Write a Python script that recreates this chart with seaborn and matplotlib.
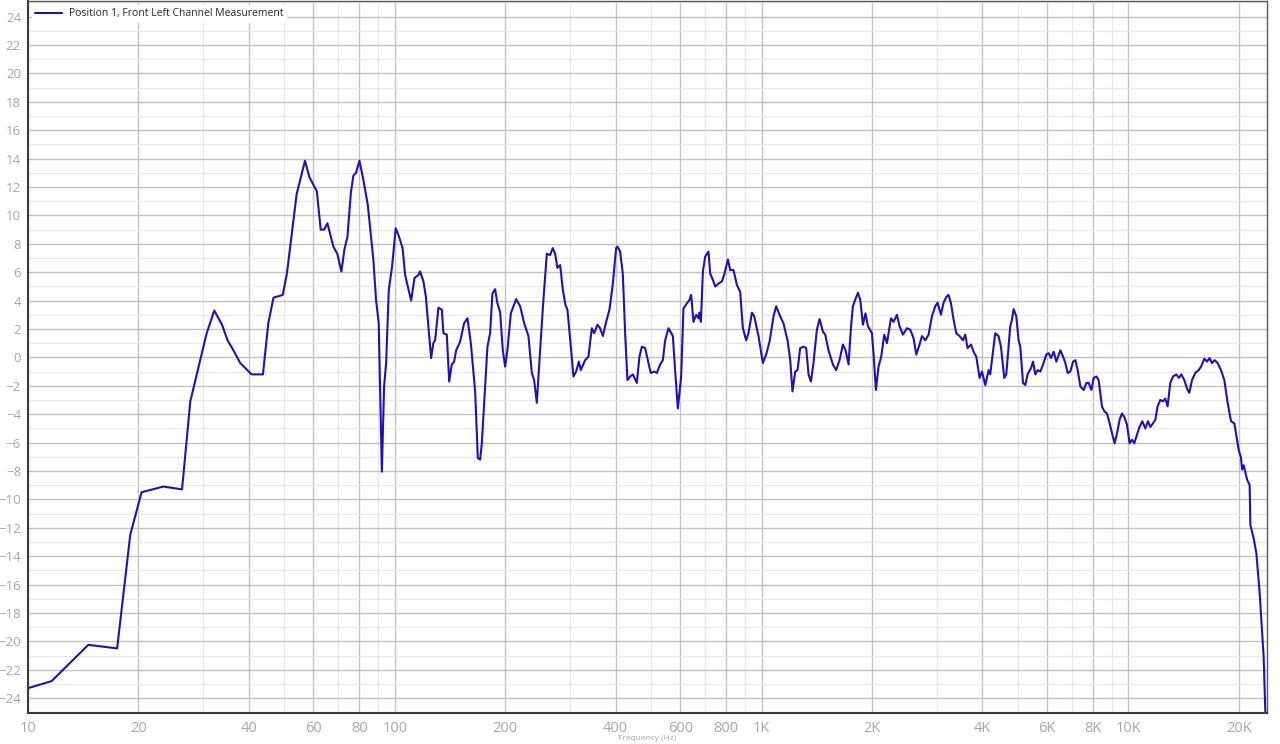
import pandas as pd
import matplotlib
matplotlib.use('Agg')
import matplotlib.pyplot as plt
import seaborn as sns
from matplotlib.ticker import FixedLocator, NullFormatter

# Position 1, front left channel - frequency response
freq_hz = [
    10, 11.6, 14.6, 17.5, 19.0, 20.4, 23.4, 26.3, 27.7, 30.7,
    32.2, 33.8, 35.0, 36.3, 37.9, 40.7, 43.7, 45.2, 46.7, 49.5,
    50.8, 54.0, 56.9, 58.5, 61.3, 62.8, 64.2, 65.5, 68.0, 69.7,
    71.5, 72.9, 74.3, 75.9, 77.1, 78.4, 80.1, 82.1, 84.4, 87.4,
    88.9, 90.4, 92.2, 93.5, 94.7, 96.3, 98.3, 100.6, 102.7, 105.0,
    106.7, 110.8, 113.2, 116.0, 117.2, 119.7, 121.5, 123.5, 125.6, 127.4,
    128.8, 131.5, 134.4, 135.7, 138.6, 140.7, 143.0, 145.1, 147.0, 150.7,
    154.5, 157.8, 161.2, 165.6, 168.4, 170.9, 172.7, 176.3, 178.9, 181.9,
    184.6, 187.7, 190.5, 193.7, 197.0, 199.9, 202.8, 207.2, 214.2, 219.7,
    225.3, 231.4, 236.4, 239.8, 243.9, 249.0, 254.2, 259.7, 265.1, 269.6,
    273.6, 277.6, 282.4, 287.2, 291.9, 295.6, 302.0, 306.9, 312.2, 317.5,
    321.5, 330.3, 337.2, 344.5, 349.5, 356.9, 362.9, 369.2, 376.9, 384.8,
    393.1, 401.3, 404.6, 411.5, 418.5, 424.6, 430.8, 438.2, 445.7, 457.0,
    464.5, 471.6, 481.5, 491.6, 499.0, 509.4, 518.1, 529.0, 538.0, 545.9,
    557.4, 573.0, 581.4, 591.2, 603.6, 612.4, 625.7, 636.0, 642.7, 652.1,
    663.3, 673.0, 677.0, 683.2, 691.8, 701.9, 716.6, 724.3, 736.7, 747.4,
    763.0, 779.5, 792.3, 809.5, 821.1, 838.3, 856.5, 874.4, 889.2, 907.8,
    921.1, 941.0, 954.6, 980.8, 1008, 1029, 1051, 1078, 1096, 1119,
    1147, 1177, 1197, 1214, 1235, 1253, 1274, 1301, 1323, 1343,
    1363, 1385, 1415, 1439, 1470, 1491, 1522, 1565, 1597, 1631,
    1666, 1694, 1726, 1752, 1774, 1800, 1831, 1858, 1889, 1920,
    1949, 1999, 2019, 2050, 2084, 2119, 2160, 2197, 2253, 2290,
    2339, 2377, 2429, 2491, 2543, 2596, 2641, 2696, 2737, 2794,
    2853, 2914, 2975, 3019, 3083, 3134, 3188, 3234, 3284, 3338,
    3394, 3465, 3540, 3592, 3644, 3722, 3784, 3849, 3930, 3989,
    4073, 4158, 4201, 4335, 4426, 4494, 4588, 4646, 4713, 4764,
    4815, 4865, 4948, 5020, 5074, 5161, 5236, 5312, 5427, 5496,
    5575, 5657, 5754, 5852, 5975, 6062, 6154, 6256, 6363, 6525,
    6636, 6733, 6831, 6948, 7066, 7169, 7274, 7398, 7553, 7683,
    7795, 7927, 8043, 8181, 8299, 8472, 8599, 8745, 8889, 9025,
    9174, 9312, 9462, 9605, 9746, 9913, 10076, 10228, 10378, 10554,
    10730, 10912, 11120, 11310, 11475, 11669, 11840, 12014, 12220, 12427,
    12609, 12793, 13010, 13234, 13511, 13740, 13941, 14207, 14451, 14662,
    14911, 15223, 15542, 15780, 16110, 16383, 16653, 16908, 17187, 17510,
    17889, 18264, 18647, 19050, 19450, 19980, 20286, 20414, 20622, 21064,
    21411, 21505, 21955, 22332, 22800, 23379, 23628,
]
level_db = [
    -23.3, -22.8, -20.25, -20.5, -12.5, -9.5, -9.1, -9.3, -3.1, 1.7,
    3.3, 2.3, 1.2, 0.5, -0.4, -1.2, -1.2, 2.4, 4.2, 4.4,
    5.9, 11.5, 13.85, 12.7, 11.7, 9.0, 9.0, 9.45, 7.8, 7.3,
    6.05, 7.6, 8.5, 11.6, 12.8, 13.0, 13.85, 12.5, 10.75, 6.9,
    4.05, 2.4, -8.05, -2.05, -0.4, 4.75, 6.4, 9.1, 8.5, 7.7,
    5.8, 4.0, 5.6, 5.8, 6.05, 5.35, 4.3, 2.2, -0.05, 1.0,
    1.2, 3.5, 3.35, 1.7, 1.6, -1.7, -0.5, -0.3, 0.5, 1.1,
    2.4, 2.75, 1.0, -2.4, -7.1, -7.2, -6.05, -2.05, 0.75, 1.7,
    4.5, 4.8, 3.8, 3.2, 0.5, -0.65, 0.5, 3.1, 4.1, 3.6,
    2.4, 1.5, -1.1, -1.6, -3.2, 0.5, 4.05, 7.3, 7.2, 7.7,
    7.3, 6.3, 6.5, 4.75, 3.7, 3.35, 0.75, -1.35, -1.0, -0.3,
    -0.9, -0.2, 0.05, 2.05, 1.7, 2.3, 2.05, 1.5, 2.5, 3.35,
    5.2, 7.7, 7.8, 7.45, 5.9, 1.7, -1.6, -1.35, -1.2, -1.8,
    0.05, 0.75, 0.65, -0.4, -1.1, -1.0, -1.1, -0.5, -0.2, 1.2,
    2.05, 1.5, -1.0, -3.6, -1.35, 3.45, 3.8, 4.05, 4.4, 2.5,
    3.0, 2.75, 3.15, 2.5, 6.05, 7.1, 7.45, 5.9, 5.45, 5.0,
    5.2, 5.35, 5.9, 6.9, 6.15, 6.15, 5.1, 4.6, 2.05, 1.2,
    1.7, 3.15, 2.9, 1.5, -0.4, 0.2, 1.1, 2.9, 3.6, 3.0,
    2.4, 1.2, -0.2, -2.4, -1.0, -0.9, 0.65, 0.75, 0.65, -1.2,
    -1.7, -0.4, 1.95, 2.7, 1.8, 1.6, 0.5, -0.5, -0.9, -0.2,
    0.9, 0.5, -0.5, 2.05, 3.6, 4.05, 4.55, 4.05, 2.3, 3.1,
    2.2, 1.7, 0.3, -2.3, -0.65, 0.05, 1.6, 1.0, 2.75, 2.5,
    3.0, 2.2, 1.6, 2.05, 1.95, 1.35, 0.2, 0.9, 1.5, 1.2,
    1.6, 2.9, 3.6, 3.85, 3.0, 3.85, 4.25, 4.4, 3.8, 2.65,
    1.7, 1.5, 1.2, 1.6, 0.65, 0.9, 0.4, 0.05, -1.45, -1.0,
    -1.95, -0.9, -1.2, 1.7, 1.5, 0.75, -1.45, -1.2, 0.75, 2.2,
    2.65, 3.4, 2.9, 1.2, 0.75, -1.8, -1.95, -1.2, -0.75, -0.3,
    -1.2, -0.9, -1.0, -0.5, 0.2, 0.3, -0.05, 0.4, -0.3, 0.5,
    0.05, -0.4, -1.1, -1.0, -0.3, -0.2, -0.9, -2.05, -2.3, -1.8,
    -1.8, -2.3, -1.45, -1.35, -1.6, -3.45, -3.8, -3.95, -4.65, -5.35,
    -6.05, -5.35, -4.4, -3.95, -4.2, -4.75, -6.05, -5.8, -6.05, -5.45,
    -4.9, -4.5, -5.0, -4.5, -4.9, -4.65, -4.4, -3.45, -3.0, -3.1,
    -2.9, -3.45, -1.8, -1.35, -1.2, -1.45, -1.2, -1.6, -2.2, -2.5,
    -1.6, -1.1, -0.9, -0.65, -0.1, -0.3, -0.05, -0.4, -0.2, -0.4,
    -0.9, -1.6, -3.2, -4.5, -4.65, -6.5, -7.1, -7.9, -7.6, -8.6,
    -9.0, -11.8, -12.75, -13.8, -16.6, -21.1, -25.0,
]

x_major = [10, 20, 40, 60, 80, 100, 200, 400, 600, 800,
           1000, 2000, 4000, 6000, 8000, 10000, 20000]
x_major_labels = ['10', '20', '40', '60', '80', '100', '200', '400', '600', '800',
                  '1K', '2K', '4K', '6K', '8K', '10K', '20K']
x_minor = [30, 50, 70, 90, 300, 500, 700, 900, 3000, 5000, 7000, 9000]
y_major = list(range(-24, 25, 2))
y_minor = list(range(-25, 26, 2))

series_name = 'Position 1, Front Left Channel Measurement'

df = pd.DataFrame({'Frequency': freq_hz, 'Level': level_db, 'Series': series_name})

sns.set_style('white')
plt.rcParams['font.family'] = ['Open Sans', 'DejaVu Sans']

fig = plt.figure(figsize=(12.8, 7.44), dpi=100)
ax = fig.add_axes([28 / 1280, 1 - 713 / 744, (1266.5 - 28) / 1280, 712 / 744])

sns.lineplot(data=df, x='Frequency', y='Level', hue='Series', palette=['#2211b0'],
             estimator=None, sort=False, linewidth=1.5, ax=ax)

ax.set_xscale('log')
ax.set_xlim(10, 23800)
ax.set_ylim(-25.05, 25.1)

ax.xaxis.set_major_locator(FixedLocator(x_major))
ax.set_xticklabels(x_major_labels)
ax.xaxis.set_minor_locator(FixedLocator(x_minor))
ax.xaxis.set_minor_formatter(NullFormatter())
ax.yaxis.set_major_locator(FixedLocator(y_major))
ax.yaxis.set_minor_locator(FixedLocator(y_minor))

ax.grid(which='major', color='#c2c2c2', linewidth=1.0)
ax.grid(which='minor', color='#e9e9e9', linewidth=0.9)
ax.set_axisbelow(True)

ax.tick_params(which='both', length=0)
ax.tick_params(axis='x', labelsize=10.5, labelcolor='#a6a6a6', pad=6)
ax.tick_params(axis='y', labelsize=9.5, labelcolor='#a6a6a6', pad=5)

for side in ['left', 'bottom']:
    ax.spines[side].set_color('#3a3a3a')
    ax.spines[side].set_linewidth(1.5)
for side in ['top', 'right']:
    ax.spines[side].set_color('#5a5a5a')
    ax.spines[side].set_linewidth(1.0)

ax.set_ylabel('')
ax.set_xlabel('Frequency (Hz)', fontsize=6, color='#a6a6a6', labelpad=0)
ax.xaxis.set_label_coords(0.5, -0.0305)

leg = ax.legend(loc='upper left', bbox_to_anchor=(0.0, 1.0), fontsize=7.5,
                frameon=True, fancybox=False, framealpha=1, edgecolor='white',
                handlelength=2.6, handletextpad=0.6, borderpad=0.35, borderaxespad=0.35)
leg.get_frame().set_linewidth(0)

fig.savefig('out.png', dpi=100)
